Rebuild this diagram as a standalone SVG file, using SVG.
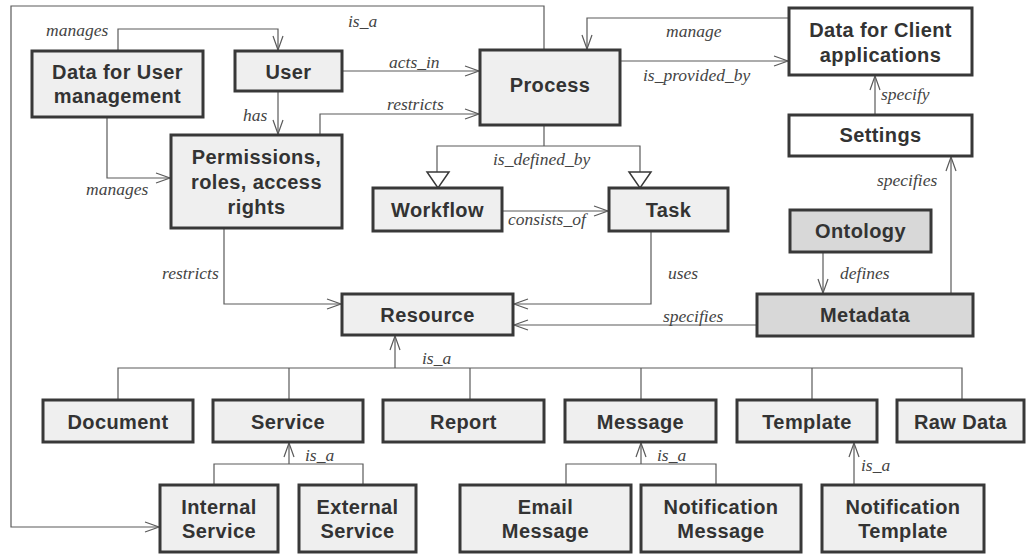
<svg xmlns="http://www.w3.org/2000/svg" width="1028" height="554" viewBox="0 0 1028 554">
<style>
.box{fill:#efefef;stroke:#383838;stroke-width:3}
.wbox{fill:#ffffff;stroke:#383838;stroke-width:3}
.dbox{fill:#d8d8d8;stroke:#383838;stroke-width:3}
.t{font-family:"Liberation Sans",Arial,sans-serif;font-weight:bold;font-size:20px;fill:#333;text-anchor:middle;letter-spacing:0.4px}
.c{fill:none;stroke:#5a5a5a;stroke-width:1.2}
.l{font-family:"Liberation Serif","Times New Roman",serif;font-style:italic;font-size:17.5px;fill:#444}
.tri{fill:#fff;stroke:#383838;stroke-width:1.5}
</style>
<defs>
<marker id="arr" viewBox="-16 -7 17 14" markerWidth="17" markerHeight="14" refX="0" refY="0" orient="auto" markerUnits="userSpaceOnUse">
<path d="M-14,-5 L0,0 L-14,5" fill="none" stroke="#5a5a5a" stroke-width="1.2"/>
</marker>
</defs>
<rect width="1028" height="554" fill="#fff"/>
<g id="connectors">
<path class="c" d="M544,50 V6 H11 V527 H159" marker-end="url(#arr)"/>
<path class="c" d="M118,51 V29 H278 V50" marker-end="url(#arr)"/>
<path class="c" d="M342,71 H479" marker-end="url(#arr)"/>
<path class="c" d="M320,135 V114 H479" marker-end="url(#arr)"/>
<path class="c" d="M278,91 V134" marker-end="url(#arr)"/>
<path class="c" d="M107,117 V178 H170" marker-end="url(#arr)"/>
<path class="c" d="M789,18 H587 V49" marker-end="url(#arr)"/>
<path class="c" d="M620,61 H788" marker-end="url(#arr)"/>
<path class="c" d="M875,115 V76" marker-end="url(#arr)"/>
<path class="c" d="M544,125 V146 H437 V172 M544,146 H640 V172"/>
<polygon class="tri" points="427,172 449,172 438,188"/>
<polygon class="tri" points="629,172 651,172 640,188"/>
<path class="c" d="M502,211 H608" marker-end="url(#arr)"/>
<path class="c" d="M951,294 V157" marker-end="url(#arr)"/>
<path class="c" d="M823,252 V293" marker-end="url(#arr)"/>
<path class="c" d="M224,228 V304 H341" marker-end="url(#arr)"/>
<path class="c" d="M651,231 V304 H514" marker-end="url(#arr)"/>
<path class="c" d="M757,325 H514" marker-end="url(#arr)"/>
<path class="c" d="M395,368 V336" marker-end="url(#arr)"/>
<path class="c" d="M118,400 V368 H962 V400 M289,368 V400 M470,368 V400 M641,368 V400 M812,368 V400"/>
<path class="c" d="M289,464 V443" marker-end="url(#arr)"/>
<path class="c" d="M214,485 V464 H363 V485"/>
<path class="c" d="M641,464 V443" marker-end="url(#arr)"/>
<path class="c" d="M566,485 V464 H716 V485"/>
<path class="c" d="M854,485 V443" marker-end="url(#arr)"/>
<text class="l" x="348" y="27">is_a</text>
<text class="l" x="46" y="36">manages</text>
<text class="l" x="389" y="68">acts_in</text>
<text class="l" x="387" y="110">restricts</text>
<text class="l" x="243" y="121">has</text>
<text class="l" x="86" y="195">manages</text>
<text class="l" x="493" y="165">is_defined_by</text>
<text class="l" x="508" y="225">consists_of</text>
<text class="l" x="666" y="37">manage</text>
<text class="l" x="643" y="81">is_provided_by</text>
<text class="l" x="881" y="100">specify</text>
<text class="l" x="877" y="186">specifies</text>
<text class="l" x="162" y="279">restricts</text>
<text class="l" x="668" y="279">uses</text>
<text class="l" x="840" y="279">defines</text>
<text class="l" x="663" y="322">specifies</text>
<text class="l" x="422" y="364">is_a</text>
<text class="l" x="305" y="461">is_a</text>
<text class="l" x="657" y="461">is_a</text>
<text class="l" x="861" y="471">is_a</text>
</g>
<g id="data-user"><rect class="box" x="32" y="51" width="171" height="66"/><text class="t" x="117.5" y="79">Data for User</text><text class="t" x="117.5" y="103">management</text></g>
<g id="user"><rect class="box" x="235" y="51" width="107" height="40"/><text class="t" x="288.5" y="79">User</text></g>
<g id="process"><rect class="box" x="480" y="50" width="140" height="75"/><text class="t" x="550" y="92">Process</text></g>
<g id="data-client"><rect class="wbox" x="789" y="8" width="183" height="67"/><text class="t" x="880.5" y="37">Data for Client</text><text class="t" x="880.5" y="62">applications</text></g>
<g id="settings"><rect class="wbox" x="789" y="115" width="183" height="41"/><text class="t" x="880.5" y="142">Settings</text></g>
<g id="permissions"><rect class="box" x="171" y="135" width="171" height="93"/><text class="t" x="256.5" y="164">Permissions,</text><text class="t" x="256.5" y="189">roles, access</text><text class="t" x="256.5" y="214">rights</text></g>
<g id="workflow"><rect class="box" x="373" y="188" width="129" height="43"/><text class="t" x="437.5" y="217">Workflow</text></g>
<g id="task"><rect class="box" x="609" y="188" width="119" height="43"/><text class="t" x="668.5" y="217">Task</text></g>
<g id="ontology"><rect class="dbox" x="790" y="210" width="141" height="42"/><text class="t" x="860.5" y="238">Ontology</text></g>
<g id="resource"><rect class="box" x="342" y="294" width="171" height="41"/><text class="t" x="427.5" y="322">Resource</text></g>
<g id="metadata"><rect class="dbox" x="757" y="294" width="216" height="42"/><text class="t" x="865" y="322">Metadata</text></g>
<g id="document"><rect class="box" x="43" y="400" width="150" height="42"/><text class="t" x="118" y="429">Document</text></g>
<g id="service"><rect class="box" x="213" y="400" width="150" height="42"/><text class="t" x="288" y="429">Service</text></g>
<g id="report"><rect class="box" x="383" y="400" width="161" height="42"/><text class="t" x="463.5" y="429">Report</text></g>
<g id="message"><rect class="box" x="565" y="400" width="151" height="42"/><text class="t" x="640.5" y="429">Message</text></g>
<g id="template"><rect class="box" x="737" y="400" width="140" height="42"/><text class="t" x="807" y="429">Template</text></g>
<g id="raw-data"><rect class="box" x="897" y="400" width="127" height="42"/><text class="t" x="960.5" y="429">Raw Data</text></g>
<g id="internal-service"><rect class="box" x="160" y="485" width="118" height="67"/><text class="t" x="219" y="514">Internal</text><text class="t" x="219" y="538">Service</text></g>
<g id="external-service"><rect class="box" x="299" y="485" width="117" height="67"/><text class="t" x="357.5" y="514">External</text><text class="t" x="357.5" y="538">Service</text></g>
<g id="email-message"><rect class="box" x="460" y="485" width="171" height="67"/><text class="t" x="545.5" y="514">Email</text><text class="t" x="545.5" y="538">Message</text></g>
<g id="notification-message"><rect class="box" x="641" y="485" width="160" height="67"/><text class="t" x="721" y="514">Notification</text><text class="t" x="721" y="538">Message</text></g>
<g id="notification-template"><rect class="box" x="822" y="485" width="162" height="67"/><text class="t" x="903" y="514">Notification</text><text class="t" x="903" y="538">Template</text></g>
</svg>
